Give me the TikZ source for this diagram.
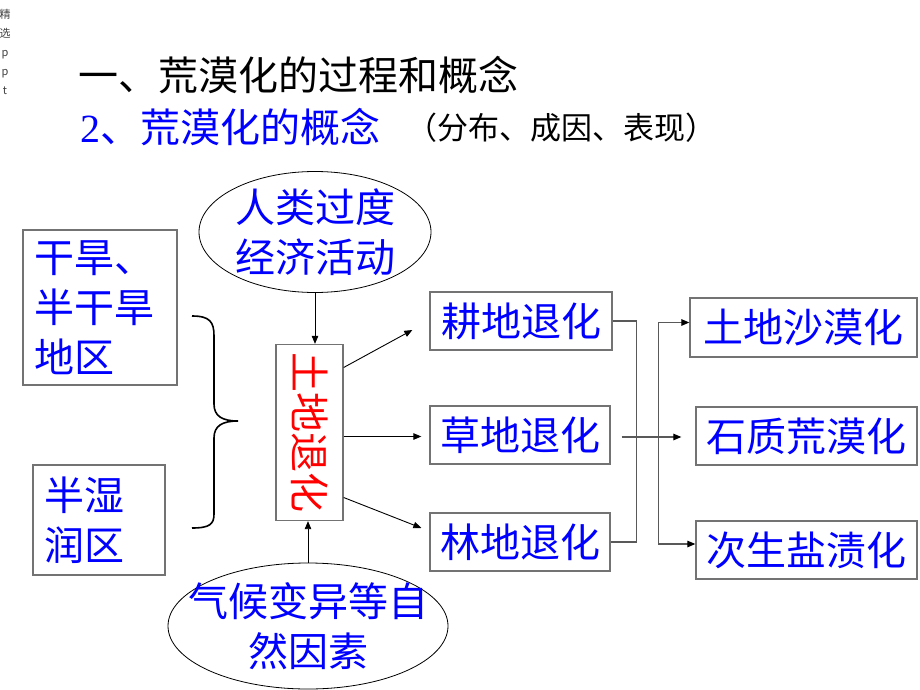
\documentclass[tikz,border=0pt]{standalone}
\usepackage{fontspec}
\setmainfont{Noto Sans CJK SC}
\newfontfamily\numfont{Liberation Serif}
\usetikzlibrary{arrows.meta, positioning, shapes.geometric, calc}

\begin{document}
\begin{tikzpicture}[
    x=1pt, y=-1pt,
    >={Triangle[length=8pt, width=6.5pt]},
    bigtext/.style={font=\fontsize{40}{50}\selectfont},
    framebox/.style={rectangle, draw=black!55, line width=1.3pt, bigtext, text=blue, inner sep=0pt},
    areabox/.style={framebox, align=left, inner xsep=11pt},
    cause/.style={ellipse, draw, line width=0.8pt, bigtext, text=blue, align=center, inner ysep=-3pt},
    arrow/.style={->, line width=0.9pt},
    link/.style={line width=1.2pt, draw=black!65},
    linkarrow/.style={link, -{Triangle[length=8pt, width=6.5pt, black]}},
    heading/.style={anchor=west, inner sep=0pt}
  ]

  \useasboundingbox (0,0) rectangle (920,690);

  % --- Headings ---
  \node[font=\fontsize{11}{19}\selectfont, text=black!75, align=center, inner sep=0pt] (mark) at (5,52) {精\\选\\p\\p\\t};
  \node[heading, font=\fontsize{40}{48}\selectfont] (title) at (78,75) {一、荒漠化的过程和概念};
  \node[heading, text=blue, font=\fontsize{40}{48}\selectfont] (subtitle) at (80,127) {{\numfont 2}、荒漠化的概念};
  \node[heading, font=\fontsize{31}{36}\selectfont] (aspects) at (406,128) {（分布、成因、表现）};

  % --- Regions ---
  \node[areabox, text width=132pt, minimum height=155pt] (arid) at (100,307.5) {干旱、\\半干旱\\地区};
  \node[areabox, text width=110pt, minimum height=110pt] (humid) at (99,520) {半湿\\润区};

  % --- Causes ---
  \node[cause, inner xsep=0pt, minimum width=232pt, minimum height=121pt] (human) at (315,232) {人类过度\\经济活动};
  \node[cause, inner xsep=-22pt, minimum width=280pt, minimum height=126pt] (nature) at (308,626) {气候变异等自\\然因素};

  % --- Land degradation ---
  \node[framebox, text=red, minimum width=67pt, minimum height=176pt] (degrade) at (309.5,432.5) {\rotatebox{-90}{土地退化}};

  % --- Degraded land types ---
  \node[framebox, minimum width=182pt, minimum height=58pt] (farm) at (521,321) {耕地退化};
  \node[framebox, minimum width=180pt, minimum height=58pt] (grass) at (520,435) {草地退化};
  \node[framebox, minimum width=180pt, minimum height=58pt] (forest) at (520,542) {林地退化};

  % --- Results ---
  \node[framebox, minimum width=227pt, minimum height=59pt] (sand) at (803.5,327.5) {土地沙漠化};
  \node[framebox, minimum width=221pt, minimum height=58pt] (rock) at (806.5,436) {石质荒漠化};
  \node[framebox, minimum width=221pt, minimum height=58pt] (salt) at (806.5,550) {次生盐渍化};

  % --- Brace ---
  \draw[line width=1.6pt] (192,316) .. controls (210,316) and (214,322) .. (214,336) -- (214,404)
    .. controls (214,416) and (222,421) .. (238,421)
    .. controls (222,421) and (214,426) .. (214,438) -- (214,514)
    .. controls (214,524) and (210,528) .. (192,528);

  % --- Connections ---
  \draw[arrow] (human.south) -- (human.south |- degrade.north);
  \draw[arrow] (nature.north) -- (nature.north |- degrade.south);

  \draw[arrow] ([yshift=65pt]degrade.east) -- ([xshift=-17pt, yshift=-9pt]farm.west);
  \draw[arrow, shorten >=8pt] ([yshift=-4pt]degrade.east) -- ([yshift=-4pt]degrade.east -| grass.west);
  \draw[arrow] ([yshift=-65pt]degrade.east) -- ([xshift=-8pt, yshift=14pt]forest.west);

  % Merge the three types, then split to the results
  \draw[link] (farm.east) -- ++(24,0) |- (forest.east);
  \draw[linkarrow, shorten >=14pt] ([xshift=11pt, yshift=-2pt]grass.east) -- ([yshift=-2pt]grass.east -| rock.west);
  \draw[link, {Triangle[length=8pt, width=6.5pt, black]}-{Triangle[length=8pt, width=6.5pt, black]}]
    ([yshift=5pt]sand.west) -- ++(-31,0) |- ([yshift=6pt]salt.west);

\end{tikzpicture}
\end{document}
